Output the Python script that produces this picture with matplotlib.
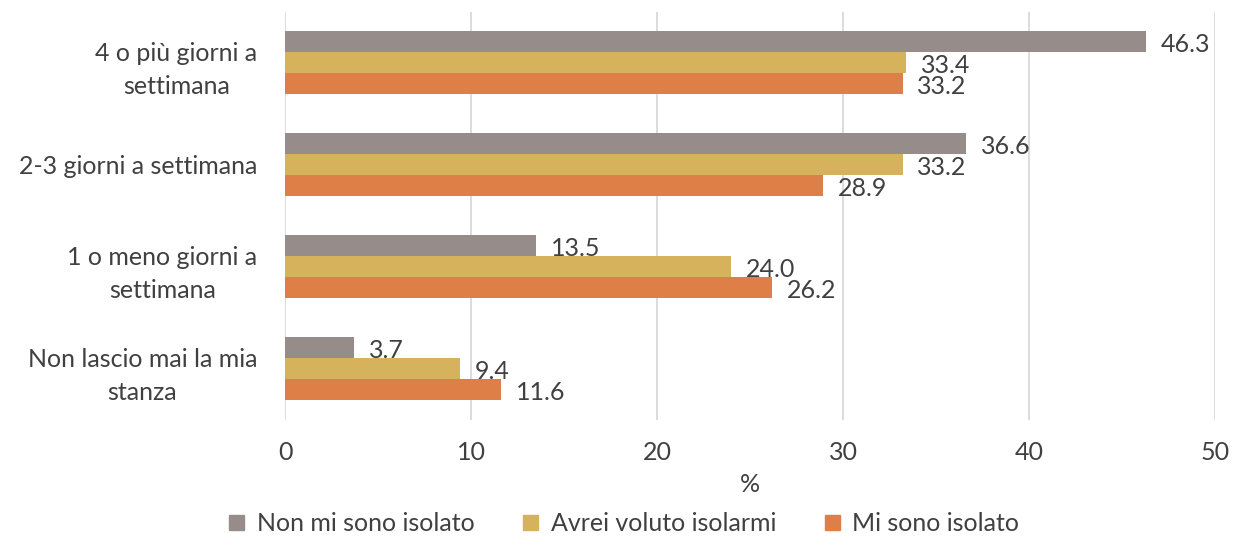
import numpy as np
import matplotlib.pyplot as plt
from matplotlib.patches import Patch

plt.rcParams['font.family'] = ['Lato', 'DejaVu Sans']

categories = ["4 o più giorni a\nsettimana", "2-3 giorni a settimana",
              "1 o meno giorni a\nsettimana", "Non lascio mai la mia\nstanza"]
series_names = ["Non mi sono isolato", "Avrei voluto isolarmi", "Mi sono isolato"]
non_isolato = [46.3, 36.6, 13.5, 3.7]
avrei_voluto = [33.4, 33.2, 24.0, 9.4]
isolato = [33.2, 28.9, 26.2, 11.6]
xticks = [0, 10, 20, 30, 40, 50]

colors = ["#968C8A", "#D7B25D", "#DD7F47"]
text_col = "#404040"
fs = 18

fig = plt.figure(figsize=(12.41, 5.39), dpi=100)
ax = fig.add_axes([0.2297, 0.221, 0.7494, 0.757])

y = np.arange(len(categories))
h = 0.206
for i, (vals, c, name) in enumerate(zip([non_isolato, avrei_voluto, isolato], colors, series_names)):
    pos = y + (i - 1) * h
    ax.barh(pos, vals, height=h, color=c, label=name, zorder=3)
    for p, v in zip(pos, vals):
        ax.text(v + 0.8, p + 0.03, f"{v:.1f}", va="center", ha="left",
                fontsize=fs, color=text_col)

ax.set_ylim(3.5, -0.5)
ax.set_xlim(0, 50)
ax.set_xticks(xticks)
ax.set_yticks(y)
ax.set_yticklabels(categories, fontsize=fs, color=text_col, linespacing=1.55,
                   multialignment='center')
ax.tick_params(axis='x', labelsize=fs, colors=text_col, length=0, pad=15)
ax.tick_params(axis='y', length=0, pad=20)
ax.grid(axis='x', color="#D9D9D9", linewidth=1.3, zorder=0)
for s in ax.spines.values():
    s.set_visible(False)
ax.set_xlabel("%", fontsize=fs, color=text_col, labelpad=7)

handles = [Patch(color=c, label=n) for c, n in zip(colors, series_names)]
fig.legend(handles=handles, loc="lower center", ncol=3, frameon=False,
           fontsize=fs, bbox_to_anchor=(0.503, -0.035), handlelength=0.6,
           handleheight=0.6, handletextpad=0.5, columnspacing=1.95,
           labelcolor=text_col)

fig.savefig("out.png", dpi=100)
